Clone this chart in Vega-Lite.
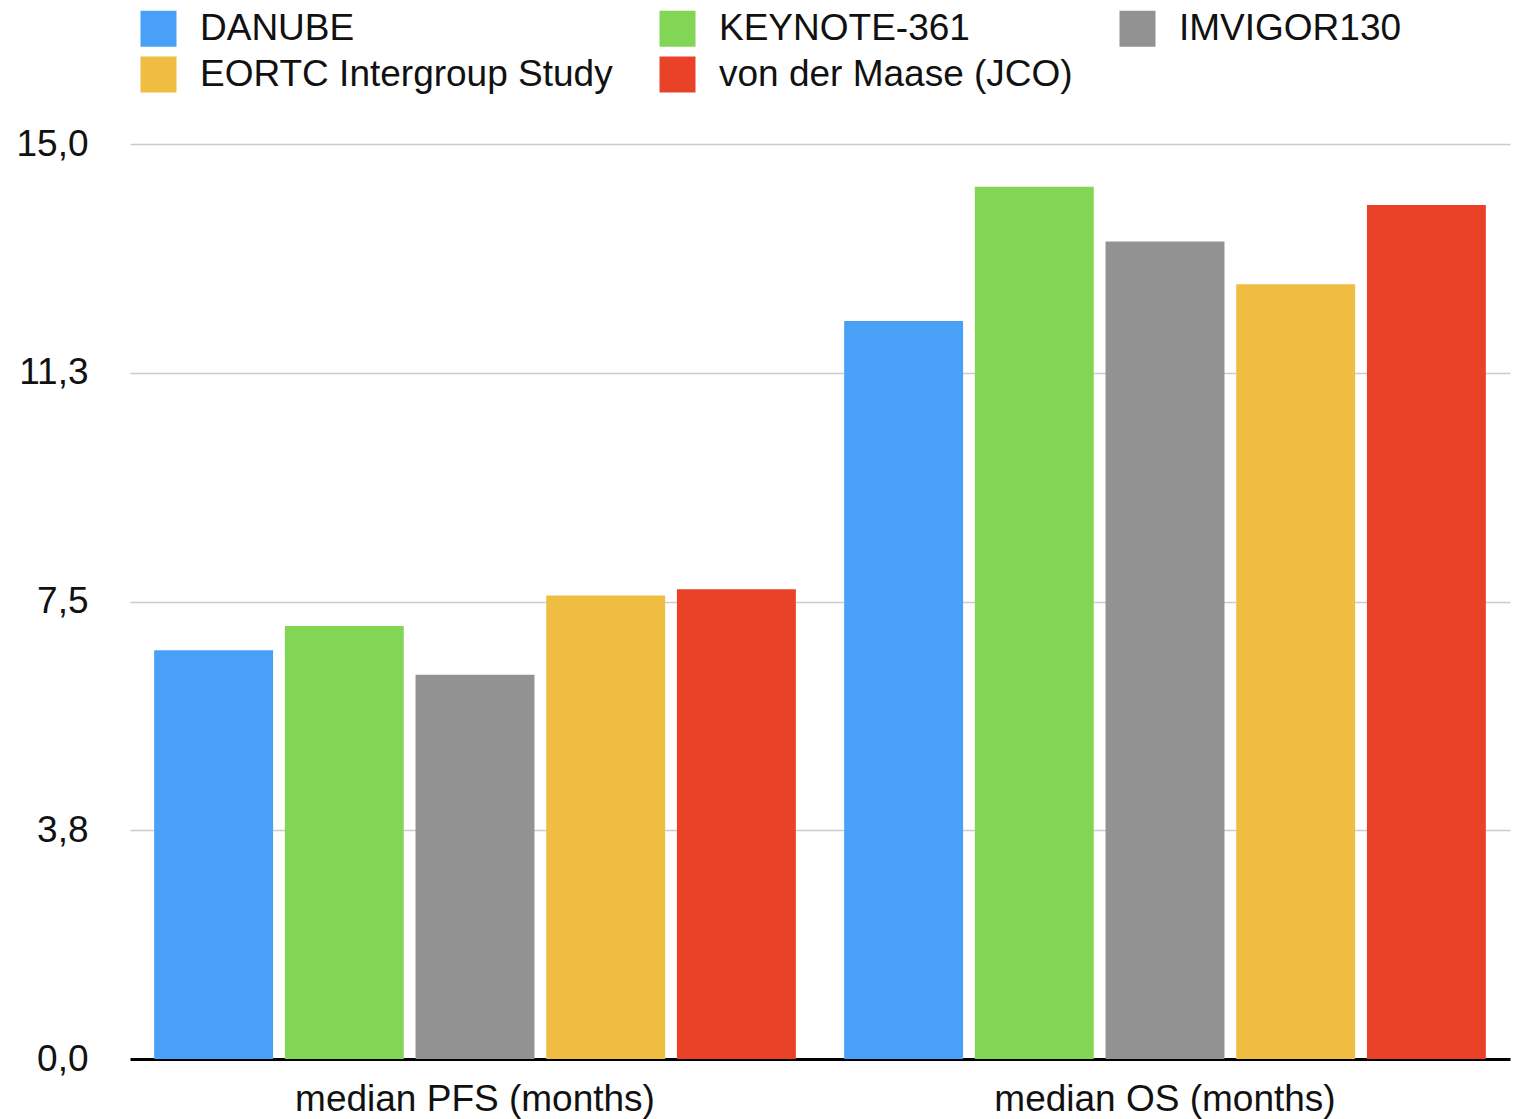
{
  "$schema": "https://vega.github.io/schema/vega-lite/v6.json",
  "autosize": {"type": "none"},
  "width": 1380,
  "height": 915,
  "padding": {"left": 130, "top": 144, "right": 7, "bottom": 60},
  "background": "white",
  "config": {
    "font": "Liberation Sans",
    "view": {"stroke": null}
  },
  "data": {
    "values": [
      {"endpoint": "median PFS (months)", "study": "DANUBE", "months": 6.7},
      {"endpoint": "median PFS (months)", "study": "KEYNOTE-361", "months": 7.1},
      {"endpoint": "median PFS (months)", "study": "IMVIGOR130", "months": 6.3},
      {"endpoint": "median PFS (months)", "study": "EORTC Intergroup Study", "months": 7.6},
      {"endpoint": "median PFS (months)", "study": "von der Maase (JCO)", "months": 7.7},
      {"endpoint": "median OS (months)", "study": "DANUBE", "months": 12.1},
      {"endpoint": "median OS (months)", "study": "KEYNOTE-361", "months": 14.3},
      {"endpoint": "median OS (months)", "study": "IMVIGOR130", "months": 13.4},
      {"endpoint": "median OS (months)", "study": "EORTC Intergroup Study", "months": 12.7},
      {"endpoint": "median OS (months)", "study": "von der Maase (JCO)", "months": 14.0}
    ]
  },
  "mark": {"type": "bar"},
  "encoding": {
    "x": {
      "field": "endpoint",
      "type": "nominal",
      "sort": ["median PFS (months)", "median OS (months)"],
      "scale": {"paddingInner": 0.07, "paddingOuter": 0.035},
      "axis": {
        "title": null,
        "labelAngle": 0,
        "labelFontSize": 37,
        "labelLimit": 800,
        "labelColor": "#111111",
        "labelPadding": 22,
        "ticks": false,
        "domainColor": "#000000",
        "domainWidth": 3,
        "grid": false
      }
    },
    "xOffset": {
      "field": "study",
      "type": "nominal",
      "sort": ["DANUBE", "KEYNOTE-361", "IMVIGOR130", "EORTC Intergroup Study", "von der Maase (JCO)"],
      "scale": {"paddingInner": 0.09, "paddingOuter": 0}
    },
    "y": {
      "field": "months",
      "type": "quantitative",
      "scale": {"domain": [0, 15], "nice": false},
      "axis": {
        "title": null,
        "values": [0, 3.75, 7.5, 11.25, 15],
        "labelExpr": "replace(format(datum.value, '.1f'), '.', ',')",
        "labelFontSize": 37,
        "labelColor": "#111111",
        "labelPadding": 42,
        "ticks": false,
        "domain": false,
        "gridColor": "#cccccc",
        "gridWidth": 1.5
      }
    },
    "color": {
      "field": "study",
      "type": "nominal",
      "sort": ["DANUBE", "KEYNOTE-361", "IMVIGOR130", "EORTC Intergroup Study", "von der Maase (JCO)"],
      "scale": {
        "domain": ["DANUBE", "KEYNOTE-361", "IMVIGOR130", "EORTC Intergroup Study", "von der Maase (JCO)"],
        "range": ["#49a0f7", "#83d655", "#929292", "#eebd42", "#e94228"]
      },
      "legend": {
        "title": null,
        "orient": "none",
        "legendX": 10,
        "legendY": -134,
        "direction": "horizontal",
        "columns": 3,
        "padding": 0,
        "symbolType": "square",
        "symbolSize": 1296,
        "symbolStrokeWidth": 0,
        "symbolOpacity": 1,
        "labelFontSize": 37,
        "labelColor": "#111111",
        "labelOffset": 23,
        "labelLimit": 600,
        "columnPadding": 46,
        "rowPadding": 8
      }
    }
  }
}
